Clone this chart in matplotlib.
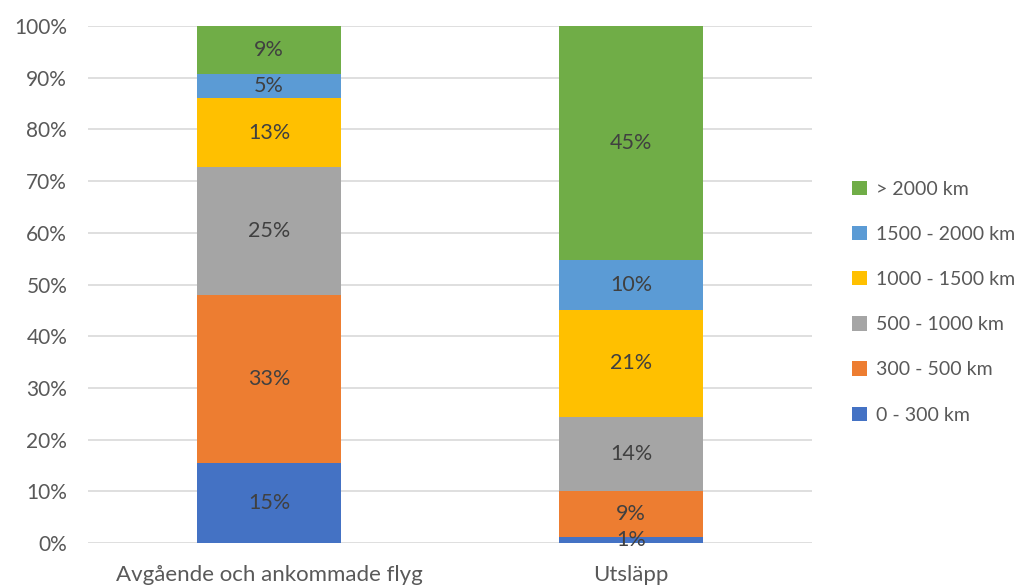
import matplotlib.pyplot as plt
import numpy as np

plt.rcParams['font.family'] = ['Lato', 'DejaVu Sans']

categories = ['Avgående och ankommade flyg', 'Utsläpp']
series_names = ['0 - 300 km', '300 - 500 km', '500 - 1000 km',
                '1000 - 1500 km', '1500 - 2000 km', '> 2000 km']
# share in percent, per distance band
flyg = [15.4, 32.6, 24.7, 13.4, 4.6, 9.3]
utslapp = [1.2, 8.9, 14.3, 20.7, 9.6, 45.3]
labels_flyg = ['15%', '33%', '25%', '13%', '5%', '9%']
labels_utslapp = ['1%', '9%', '14%', '21%', '10%', '45%']

colors = ['#4472C4', '#ED7D31', '#A5A5A5', '#FFC000', '#5B9BD5', '#70AD47']

fig = plt.figure(figsize=(10.27, 5.86), dpi=100)
ax = fig.add_axes([0.0857, 0.0734, 0.705, 0.8822])

x = np.arange(len(categories))
bottom = np.zeros(len(categories))
values = np.array([flyg, utslapp]).T
labels = list(zip(labels_flyg, labels_utslapp))

handles = []
for i, name in enumerate(series_names):
    bars = ax.bar(x, values[i], 0.4, bottom=bottom, color=colors[i],
                  label=name, zorder=2)
    handles.append(bars)
    ax.bar_label(bars, labels=list(labels[i]), label_type='center',
                 color='#404040', fontsize=15.5)
    bottom += values[i]

ax.set_xlim(-0.5, 1.5)
ax.set_ylim(0, 100)
ax.set_yticks(np.arange(0, 101, 10))
ax.set_yticklabels([f'{v}%' for v in range(0, 101, 10)])
ax.set_xticks(x)
ax.set_xticklabels(categories)
ax.tick_params(axis='both', length=0, labelsize=15, colors='#595959')
ax.tick_params(axis='y', pad=15)
ax.tick_params(axis='x', pad=16, labelsize=16)
ax.grid(axis='y', color='#D9D9D9', linewidth=1.2, zorder=0)
for s in ax.spines.values():
    s.set_visible(False)

leg = ax.legend(handles[::-1], series_names[::-1], loc='center left',
                bbox_to_anchor=(1.031, 0.466), frameon=False, fontsize=14,
                labelcolor='#595959', handlelength=0.75, handleheight=0.75,
                handletextpad=0.5, labelspacing=1.45)

fig.savefig('out.png', dpi=100)
